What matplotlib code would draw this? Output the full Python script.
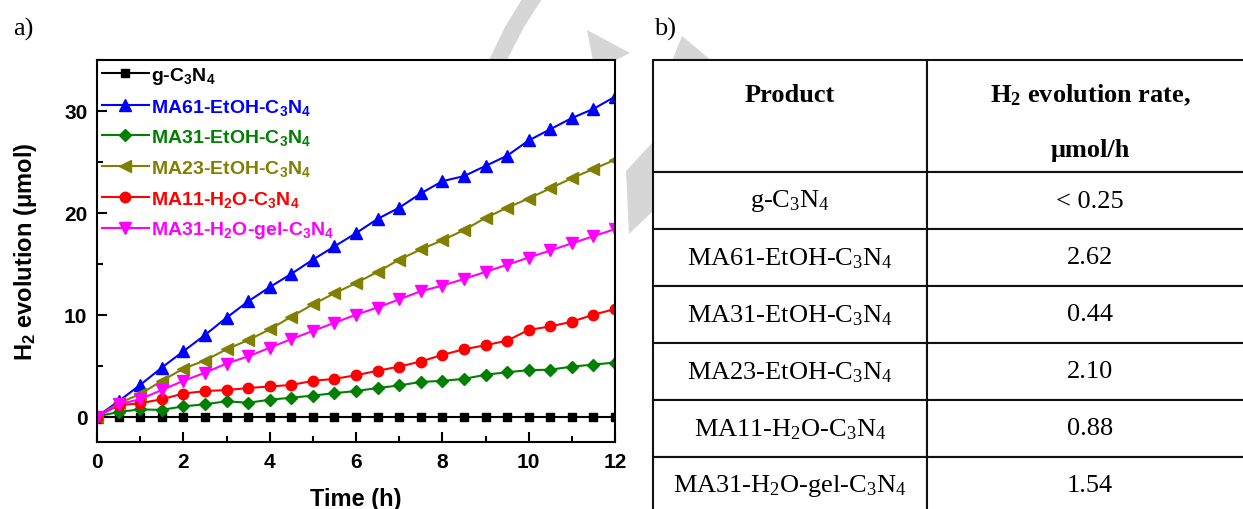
import matplotlib
matplotlib.use("Agg")
import matplotlib.pyplot as plt
from matplotlib.patches import Polygon
from matplotlib.ticker import MultipleLocator

# photocatalytic H2 evolution, sampled every 0.5 h
time_h = [0, 0.5, 1, 1.5, 2, 2.5, 3, 3.5, 4, 4.5, 5, 5.5, 6,
          6.5, 7, 7.5, 8, 8.5, 9, 9.5, 10, 10.5, 11, 11.5, 12]
h2_gcn = [0, 0, 0, 0, 0, 0, 0, 0, 0, 0, 0, 0, 0,
          0, 0, 0, 0, 0, 0, 0, 0, 0, 0, 0, 0]
h2_ma61_etoh = [0, 1.5, 3.1, 4.8, 6.4, 8.0, 9.7, 11.3, 12.7, 14.0, 15.4, 16.7, 18.0,
                19.4, 20.5, 21.9, 23.1, 23.6, 24.6, 25.6, 27.1, 28.2, 29.3, 30.2, 31.4]
h2_ma31_etoh = [0, 0.45, 0.7, 0.65, 1.0, 1.2, 1.5, 1.35, 1.65, 1.85, 2.05, 2.3, 2.5,
                2.8, 3.05, 3.4, 3.5, 3.7, 4.1, 4.35, 4.55, 4.6, 4.9, 5.1, 5.3]
h2_ma23_etoh = [0, 1.3, 2.2, 3.5, 4.7, 5.5, 6.6, 7.5, 8.55, 9.8, 11.0, 12.1, 13.1,
                14.2, 15.4, 16.4, 17.3, 18.3, 19.5, 20.5, 21.4, 22.4, 23.4, 24.3, 25.2]
h2_ma11_h2o = [0, 1.1, 1.3, 1.7, 2.25, 2.5, 2.6, 2.8, 2.95, 3.1, 3.5, 3.7, 4.05,
               4.5, 4.9, 5.4, 6.05, 6.6, 7.0, 7.45, 8.5, 8.85, 9.3, 10.0, 10.55]
h2_ma31_gel = [0, 1.2, 1.7, 2.6, 3.5, 4.3, 5.2, 5.9, 6.75, 7.6, 8.4, 9.2, 10.0,
               10.7, 11.5, 12.3, 12.85, 13.5, 14.2, 14.9, 15.6, 16.3, 17.0, 17.7, 18.4]

sub3 = r"$\mathregular{_3}$"
sub4 = r"$\mathregular{_4}$"
sub2 = r"$\mathregular{_2}$"
sample_names = ["g-C" + sub3 + "N" + sub4,
                "MA61-EtOH-C" + sub3 + "N" + sub4,
                "MA31-EtOH-C" + sub3 + "N" + sub4,
                "MA23-EtOH-C" + sub3 + "N" + sub4,
                "MA11-H" + sub2 + "O-C" + sub3 + "N" + sub4,
                "MA31-H" + sub2 + "O-gel-C" + sub3 + "N" + sub4]
rates = ["< 0.25", "2.62", "0.44", "2.10", "0.88", "1.54"]
table_header = ["Product", "H" + sub2 + " evolution rate,\nμmol/h"]

series = [h2_gcn, h2_ma61_etoh, h2_ma31_etoh, h2_ma23_etoh, h2_ma11_h2o, h2_ma31_gel]
colors = ["#000000", "#0000ff", "#008000", "#808000", "#ff0000", "#ff00ff"]
markers = ["s", "^", "D", "<", "o", "v"]
msizes = [6, 8, 6.5, 8, 7.5, 8]

plt.rcParams["font.family"] = ["Liberation Sans", "DejaVu Sans"]
plt.rcParams["font.weight"] = "bold"

W, H = 1243, 510
fig = plt.figure(figsize=(W / 100, H / 100), dpi=100)

def px(pts):
    return [(x / W, 1 - y / H) for x, y in pts]

# grey arrow strokes in the background
wm = "#d6d6d6"
for pts in ([(489, 61), (505, 28), (522, 0), (542, 0), (524, 28), (507, 61)],
            [(587, 31), (630, 54), (614, 62), (593, 62)],
            [(682, 37), (712, 62), (690, 140), (653, 212), (629, 235),
             (626, 172), (653, 143), (672, 62)]):
    fig.patches.append(Polygon(px(pts), closed=True, facecolor=wm, edgecolor="none",
                               transform=fig.transFigure, zorder=-1))

# a) time course
ax = fig.add_axes([97 / W, 1 - 443 / H, (615 - 97) / W, (443 - 61) / H])
for y, c, m, ms, lab in zip(series, colors, markers, msizes, sample_names):
    ax.plot(time_h, y, color=c, marker=m, markersize=ms, linewidth=1.5, label=lab)

ax.set_xlim(0, 12)
ax.set_ylim(-2.5, 35)
ax.xaxis.set_major_locator(MultipleLocator(2))
ax.xaxis.set_minor_locator(MultipleLocator(1))
ax.yaxis.set_major_locator(MultipleLocator(10))
ax.yaxis.set_minor_locator(MultipleLocator(5))
ax.tick_params(which="both", direction="in", width=1.5, labelsize=15, pad=7)
ax.tick_params(which="major", length=7)
ax.tick_params(which="minor", length=4)
for sp in ax.spines.values():
    sp.set_linewidth(1.5)
ax.set_xlabel("Time (h)", fontsize=17, fontweight="bold", labelpad=12)
ax.set_ylabel("H" + sub2 + " evolution (μmol)", fontsize=17, fontweight="bold", labelpad=18)

leg = ax.legend(loc="upper left", bbox_to_anchor=(0.0, 1.0), frameon=False,
                fontsize=14, handlelength=2.4, handletextpad=0.15, labelspacing=0.55,
                borderpad=0.15, borderaxespad=0.1, labelcolor="linecolor")

fig.text(13 / W, 1 - 36 / H, "a)", fontsize=19, fontweight="normal",
         family="Liberation Serif", va="baseline")
fig.text(654 / W, 1 - 36 / H, "b)", fontsize=19, fontweight="normal",
         family="Liberation Serif", va="baseline")

# b) rate table
tab_h = 454
head_h, row_h = 112, 57
col_w = [274 / 600, 326 / 600]
tax = fig.add_axes([653 / W, 1 - 515 / H, 600 / W, tab_h / H])
tax.axis("off")
cells = [[n, r] for n, r in zip(sample_names, rates)]
tbl = tax.table(cellText=cells, colLabels=["", ""], colWidths=col_w,
                cellLoc="center", bbox=[0, 0, 1, 1])
tbl.auto_set_font_size(False)
tbl.set_fontsize(19)
for (r, c), cell in tbl.get_celld().items():
    cell.set_linewidth(1.5)
    cell.set_edgecolor("#111111")
    cell.set_height(head_h if r == 0 else row_h)
    cell.get_text().set_fontfamily("Liberation Serif")
    cell.get_text().set_fontweight("normal")

# header lines sit near the top of the tall header row
head_x = [col_w[0] / 2, col_w[0] + col_w[1] / 2]
for hx, lab in zip(head_x, table_header):
    for i, line in enumerate(lab.split("\n")):
        tax.text(hx, 1 - (34 + 55 * i) / tab_h, line, transform=tax.transAxes,
                 ha="center", va="center", fontsize=19, fontweight="bold",
                 family="Liberation Serif")

fig.savefig("out.png", dpi=100)
